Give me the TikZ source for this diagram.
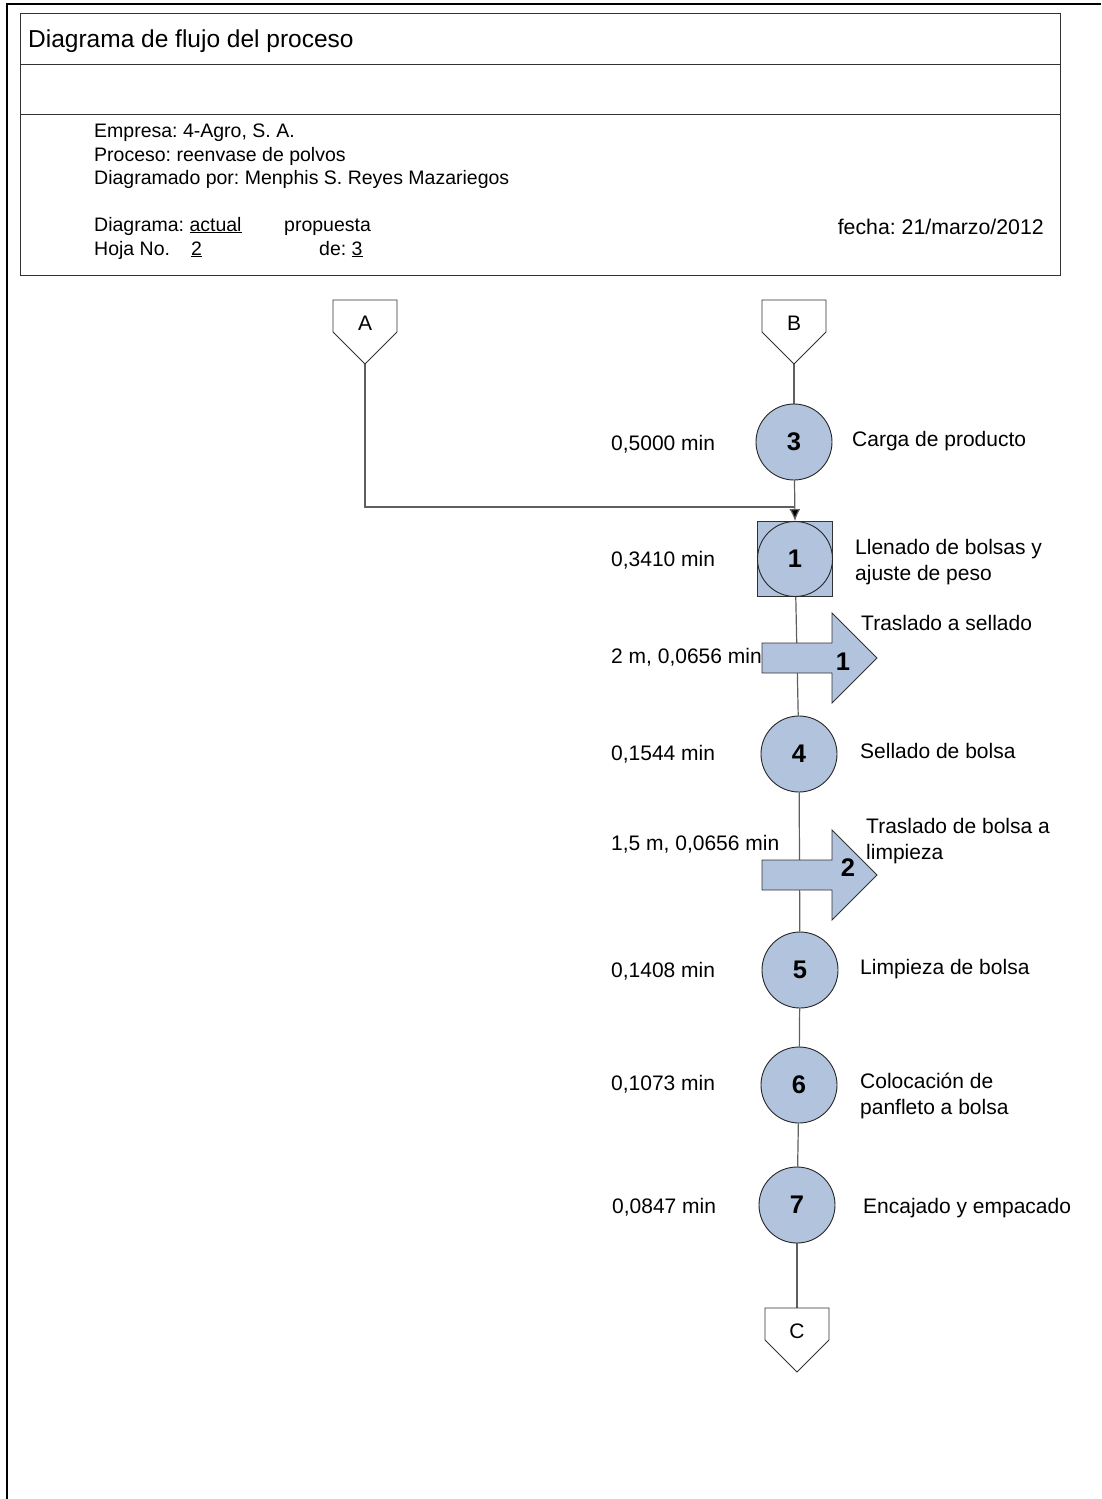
\documentclass[tikz,border=0pt]{standalone}
\usepackage{fontspec}
\setmainfont{Liberation Sans}
\frenchspacing
\usetikzlibrary{backgrounds,arrows.meta}
\definecolor{opfill}{RGB}{178,196,221}
\definecolor{linegray}{RGB}{95,95,95}
\definecolor{boxline}{RGB}{50,50,50}
\tikzset{
  every node/.style={inner sep=0pt},
  lbl/.style={anchor=base west, font=\fontsize{21}{26}\selectfont, align=left},
  info/.style={anchor=base west, font=\fontsize{19.5}{23}\selectfont},
  op/.style={circle, draw=black!85, line width=0.9pt, fill=opfill, minimum size=76pt,
             font=\fontsize{25.5}{30}\selectfont\bfseries},
  numlbl/.style={font=\fontsize{25.5}{30}\selectfont\bfseries},
  flowline/.style={draw=linegray, line width=1.2pt},
  pics/offpage/.style={code={
    \draw[boxline, line width=0.9pt, fill=white]
      (-32,-23) -- (32,-23) -- (32,9) -- (0,41) -- (-32,9) -- cycle;
    \node[font=\fontsize{21}{25}\selectfont] (-lbl) at (0,0) {#1};
    \coordinate (-tip) at (0,41);
    \coordinate (-top) at (0,-23);
  }},
  pics/movearrow/.style={code={
    \draw[boxline, line width=0.9pt, fill=opfill]
      (0,-15) -- (70,-15) -- (70,-45) -- (115,0) -- (70,45) -- (70,15) -- (0,15) -- cycle;
  }}
}
\begin{document}
\begin{tikzpicture}[x=1pt,y=-1pt]
\useasboundingbox (0,0) rectangle (1101,1499);

% page frame
\draw[line width=2pt] (7,1499) -- (7,4) -- (1101,4);

% heading block
\draw[boxline, line width=1pt] (20,13) rectangle (1060,275);
\draw[boxline, line width=1pt] (20,64) -- (1060,64);
\draw[boxline, line width=1pt] (20,114) -- (1060,114);
\node[anchor=base west, font=\fontsize{24.5}{29}\selectfont] (title) at (28,47) {Diagrama de flujo del proceso};
\node[info] (emp) at (94,137) {Empresa: 4-Agro, S. A.};
\node[info] (proc) at (94,161) {Proceso: reenvase de polvos};
\node[info] (autor) at (94,184) {Diagramado por: Menphis S. Reyes Mazariegos};
\node[info] (diag) at (94,231) {Diagrama: \underline{actual}};
\node[info] (prop) at (284,231) {propuesta};
\node[info] (hoja) at (94,255) {Hoja No.};
\node[info] (hnum) at (191,255) {\underline{2}};
\node[info] (de) at (319,255) {de: \underline{3}};
\node[anchor=base east, font=\fontsize{21.3}{25}\selectfont] (fecha) at (1044,234) {fecha: 21/marzo/2012};

% off-page connectors
\pic (A) at (365,323) {offpage=A};
\pic (B) at (794,323) {offpage=B};
\pic (C) at (797,1331) {offpage=C};

% operations
\node[op] (c3) at (794,442) {3};
\node[rectangle, draw=boxline, line width=0.9pt, fill=opfill, minimum size=75pt] (s1) at (795,559) {};
\node[op, minimum size=75pt] (c1) at (795,559) {1};
\node[op] (c4) at (799,754) {4};
\node[op] (c5) at (800,970) {5};
\node[op] (c6) at (799,1085) {6};
\node[op] (c7) at (797,1205) {7};
\coordinate (j) at (794,507);

% transports
\pic (t1) at (762,658) {movearrow};
\node[numlbl] (m1) at (843,662) {1};
\pic (t2) at (762,875) {movearrow};
\node[numlbl] (m2) at (848,868) {2};

% connectors
\begin{scope}[on background layer]
  \draw[flowline] (B-tip) -- (c3);
  \draw[flowline] (A-tip) |- (j);
  \draw[flowline] (c4) -- (c5);
  \draw[flowline] (s1) -- (c4);
  \draw[flowline] (c5) -- (c6);
  \draw[flowline] (c6) -- (c7);
  \draw[flowline] (c7) -- (C-top);
\end{scope}
\draw[flowline, shorten <=38pt, -{Latex[length=12pt,width=11pt,fill=black]}] (c3.center) -- (s1.north);

% times and descriptions
\node[lbl] (t3) at (611,450) {0,5000 min};
\node[lbl] (d3) at (852,446) {Carga de producto};
\node[lbl] (t1l) at (611,566) {0,3410 min};
\node[lbl] (d1) at (855,580) {Llenado de bolsas y\\ajuste de peso};
\node[lbl] (dm1) at (861,630) {Traslado a sellado};
\node[lbl] (tm1) at (611,663) {2 m, 0,0656 min};
\node[lbl] (t4) at (611,760) {0,1544 min};
\node[lbl] (d4) at (860,758) {Sellado de bolsa};
\node[lbl] (tm2) at (611,850) {1,5 m, 0,0656 min};
\node[lbl] (dm2) at (866,859) {Traslado de bolsa a\\limpieza};
\node[lbl] (t5) at (611,977) {0,1408 min};
\node[lbl] (d5) at (860,974) {Limpieza de bolsa};
\node[lbl] (t6) at (611,1090) {0,1073 min};
\node[lbl] (d6) at (860,1114) {Colocación de\\panfleto a bolsa};
\node[lbl] (t7) at (612,1213) {0,0847 min};
\node[lbl] (d7) at (863,1213) {Encajado y empacado};
\end{tikzpicture}
\end{document}
